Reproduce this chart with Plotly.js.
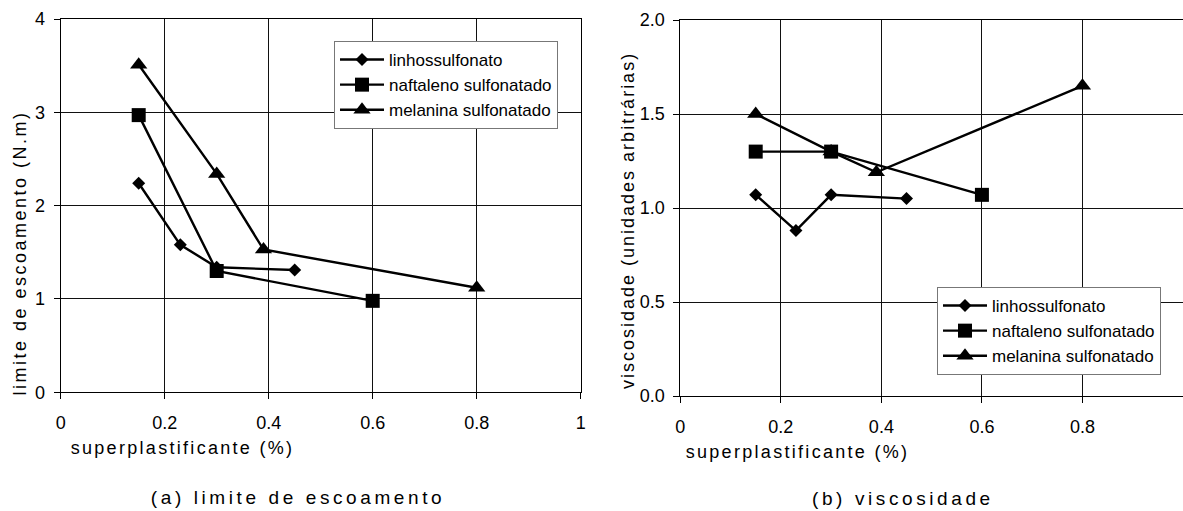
<!DOCTYPE html>
<html><head><meta charset="utf-8">
<script src="https://cdn.plot.ly/plotly-3.0.1.min.js"></script>
<style>
html,body{margin:0;padding:0;background:#fff;}
#chart{width:1183px;height:511px;}
.annotation[data-index="0"] text,.annotation[data-index="1"] text{letter-spacing:2.3px;}
.annotation[data-index="2"] text{letter-spacing:2.5px;}
.annotation[data-index="3"] text{letter-spacing:2.0px;}
.annotation[data-index="4"] text,.annotation[data-index="5"] text{letter-spacing:3.6px;}
</style>
</head><body><div id="chart"></div><script>
// ---- data ----
const seriesNames = ['linhossulfonato', 'naftaleno sulfonatado', 'melanina sulfonatado'];
// (a) limite de escoamento
const xLinA = [0.15, 0.23, 0.30, 0.45];
const yLinA = [2.24, 1.58, 1.34, 1.31];
const xNafA = [0.15, 0.30, 0.60];
const yNafA = [2.97, 1.30, 0.98];
const xMelA = [0.15, 0.30, 0.39, 0.80];
const yMelA = [3.51, 2.34, 1.53, 1.12];
// (b) viscosidade
const xLinB = [0.15, 0.23, 0.30, 0.45];
const yLinB = [1.07, 0.88, 1.07, 1.05];
const xNafB = [0.15, 0.30, 0.60];
const yNafB = [1.30, 1.30, 1.07];
const xMelB = [0.15, 0.30, 0.39, 0.80];
const yMelB = [1.50, 1.30, 1.19, 1.65];

const xTitle = 'superplastificante (%)';
const yTitleA = 'limite de escoamento (N.m)';
const yTitleB = 'viscosidade (unidades arbitrárias)';
const captionA = '(a) limite de escoamento';
const captionB = '(b) viscosidade';

const FONT = 'Liberation Sans, Arial, sans-serif';
const W = 1183, H = 511;
const px = v => v / W, py = v => 1 - v / H;

const symbols = ['diamond', 'square', 'triangle-up'];
const sizes = [10, 14, 15];

function tr(x, y, i, xa, ya, leg) {
  return {
    x: x, y: y, name: seriesNames[i], type: 'scatter', mode: 'lines+markers',
    xaxis: xa, yaxis: ya, legend: leg, legendgroup: leg + i,
    line: {color: '#000', width: 2.4},
    marker: {symbol: symbols[i], size: sizes[i], color: '#000'},
    cliponaxis: false
  };
}

const data = [
  tr(xLinA, yLinA, 0, 'x', 'y', 'legend'),
  tr(xNafA, yNafA, 1, 'x', 'y', 'legend'),
  tr(xMelA, yMelA, 2, 'x', 'y', 'legend'),
  tr(xLinB, yLinB, 0, 'x2', 'y2', 'legend2'),
  tr(xNafB, yNafB, 1, 'x2', 'y2', 'legend2'),
  tr(xMelB, yMelB, 2, 'x2', 'y2', 'legend2')
];

function xax(dom, anchor) {
  return {
    domain: dom, anchor: anchor, range: [0, 1], tick0: 0, dtick: 0.2,
    showgrid: true, gridcolor: '#111', gridwidth: 1,
    showline: true, linecolor: '#000', linewidth: 1, mirror: true,
    ticks: 'outside', ticklen: 6, tickcolor: '#000', tickwidth: 1,
    tickfont: {family: FONT, size: 18, color: '#000'},
    ticklabelstandoff: 8, zeroline: false
  };
}
function yax(dom, anchor, range, dtick, fmt) {
  return {
    domain: dom, anchor: anchor, range: range, tick0: 0, dtick: dtick,
    tickformat: fmt,
    showgrid: true, gridcolor: '#111', gridwidth: 1,
    showline: true, linecolor: '#000', linewidth: 1, mirror: true,
    ticks: 'outside', ticklen: 6, tickcolor: '#000', tickwidth: 1,
    tickfont: {family: FONT, size: 18, color: '#000'},
    ticklabelstandoff: 5, zeroline: false
  };
}

const legStyle = {
  bgcolor: '#fff', bordercolor: '#777', borderwidth: 1,
  font: {family: FONT, size: 17, color: '#000'},
  xanchor: 'left', yanchor: 'top', traceorder: 'grouped', tracegroupgap: 0,
  itemwidth: 44
};

function ann(text, x, y, size, angle) {
  return {text: text, xref: 'paper', yref: 'paper', x: px(x), y: py(y),
    xanchor: 'center', yanchor: 'middle', showarrow: false, textangle: angle || 0,
    font: {family: FONT, size: size, color: '#000'}};
}

const layout = {
  width: W, height: H, margin: {l: 0, r: 0, t: 0, b: 0},
  paper_bgcolor: '#fff', plot_bgcolor: '#fff',
  showlegend: true,
  xaxis: xax([px(60.7), px(580.7)], 'y'),
  yaxis: yax([1 - 392.3 / H, 1 - 19 / H], 'x', [0, 4], 1, 'd'),
  xaxis2: xax([px(680.3), 1], 'y2'),
  yaxis2: yax([1 - 396 / H, 1 - 20 / H], 'x2', [0, 2], 0.5, '.1f'),
  legend: Object.assign({x: px(334), y: py(41)}, legStyle),
  legend2: Object.assign({x: px(937), y: py(287)}, legStyle),
  annotations: [
    ann(xTitle, 182, 448, 18),
    ann(xTitle, 797, 452, 18),
    ann(yTitleA, 20, 253, 18, -90),
    ann(yTitleB, 628, 221, 18, -90),
    ann(captionA, 298, 497, 19),
    ann(captionB, 903, 498, 19)
  ]
};

Plotly.newPlot('chart', data, layout, {staticPlot: true, displayModeBar: false});
</script></body></html>
